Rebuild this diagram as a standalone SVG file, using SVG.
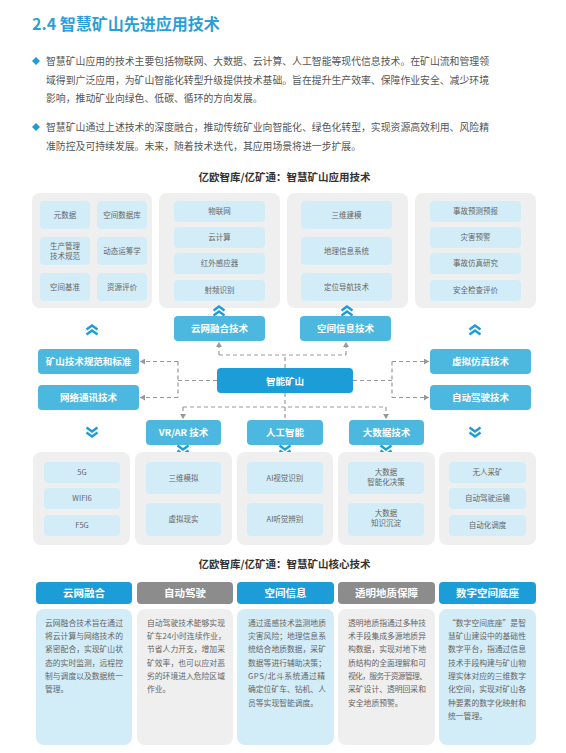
<svg xmlns="http://www.w3.org/2000/svg" xmlns:xlink="http://www.w3.org/1999/xlink" width="566" height="753" viewBox="0 0 566 753" font-family="'Noto Sans CJK SC','Noto Sans',sans-serif">
<style>
.panel{fill:#efefef}
.cell{fill:#d3edf8}
.btn{fill:#4db8df}
.core{fill:#1d9dd8}
.hdrB{fill:#1d9dd8}
.hdrG{fill:#8c8c8c}
.ct{font-size:7.5px;fill:#666;text-anchor:middle}
.bt{font-size:9.5px;fill:#fff;font-weight:bold;text-anchor:middle}
.ht{font-size:10.5px;fill:#fff;font-weight:bold;text-anchor:middle}
.body{font-size:7.8px;fill:#666}
.para{font-size:9.85px;fill:#555}
.ctitle{font-size:10.5px;fill:#333;font-weight:bold;text-anchor:middle}
.conn{stroke:#999;stroke-width:1.2;stroke-dasharray:4 3;fill:none}
.chev{stroke:#1d9dd8;stroke-width:2.4;fill:none;stroke-linejoin:miter}
</style>
<defs>
<marker id="arr" markerUnits="userSpaceOnUse" markerWidth="6" markerHeight="6" refX="5" refY="3" orient="auto">
<path d="M0,0 L5,3 L0,6 z" fill="#999"/>
</marker>
<g id="chevUp"><path class="chev" d="M-5.5,-0.5 L0,-4.5 L5.5,-0.5 M-5.5,4.5 L0,0.5 L5.5,4.5"/></g>
<g id="chevDown"><path class="chev" d="M-5.5,-4.5 L0,-0.5 L5.5,-4.5 M-5.5,0.5 L0,4.5 L5.5,0.5"/></g>
</defs>
<rect width="566" height="753" fill="#ffffff"/>

<g id="heading">
<text x="32" y="30" font-size="16" font-weight="bold" fill="#2a9fd8">2.4 智慧矿山先进应用技术</text>
</g>

<g id="paragraphs">
<path d="M36,57 L40,61 L36,65 L32,61 z" fill="#1d9dd8"/>
<text class="para" x="46" y="64.5" textLength="443">智慧矿山应用的技术主要包括物联网、大数据、云计算、人工智能等现代信息技术。在矿山流和管理领</text>
<text class="para" x="46" y="83.5" textLength="443">域得到广泛应用，为矿山智能化转型升级提供技术基础。旨在提升生产效率、保障作业安全、减少环境</text>
<text class="para" x="46" y="102">影响，推动矿业向绿色、低碳、循环的方向发展。</text>
<path d="M36,123 L40,127 L36,131 L32,127 z" fill="#1d9dd8"/>
<text class="para" x="46" y="130.5" textLength="443">智慧矿山通过上述技术的深度融合，推动传统矿业向智能化、绿色化转型，实现资源高效利用、风险精</text>
<text class="para" x="46" y="149.5">准防控及可持续发展。未来，随着技术迭代，其应用场景将进一步扩展。</text>
</g>

<text class="ctitle" x="284.5" y="181">亿欧智库/亿矿通：智慧矿山应用技术</text>

<g id="panel-top1">
<rect class="panel" x="32" y="193" width="120" height="115" rx="8"/>
<rect class="cell" x="40" y="201" width="50" height="28" rx="4"/>
<rect class="cell" x="97" y="201" width="50" height="28" rx="4"/>
<rect class="cell" x="40" y="237" width="50" height="28" rx="4"/>
<rect class="cell" x="97" y="237" width="50" height="28" rx="4"/>
<rect class="cell" x="40" y="273" width="50" height="28" rx="4"/>
<rect class="cell" x="97" y="273" width="50" height="28" rx="4"/>
<text class="ct" x="65" y="217.7">元数据</text>
<text class="ct" x="122" y="217.7">空间数据库</text>
<text class="ct" x="65" y="248.7">生产管理</text>
<text class="ct" x="65" y="258.7">技术规范</text>
<text class="ct" x="122" y="253.7">动态运筹学</text>
<text class="ct" x="65" y="289.7">空间基准</text>
<text class="ct" x="122" y="289.7">资源评价</text>
</g>

<g id="panel-top2">
<rect class="panel" x="159" y="193" width="121" height="115" rx="8"/>
<rect class="cell" x="174" y="201" width="91" height="21" rx="4"/>
<rect class="cell" x="174" y="227" width="91" height="21" rx="4"/>
<rect class="cell" x="174" y="253" width="91" height="21" rx="4"/>
<rect class="cell" x="174" y="280" width="91" height="21" rx="4"/>
<text class="ct" x="219.5" y="214.2">物联网</text>
<text class="ct" x="219.5" y="240.2">云计算</text>
<text class="ct" x="219.5" y="266.2">红外感应器</text>
<text class="ct" x="219.5" y="293.2">射频识别</text>
</g>

<g id="panel-top3">
<rect class="panel" x="287" y="193" width="121" height="115" rx="8"/>
<rect class="cell" x="301" y="201" width="91" height="28" rx="4"/>
<rect class="cell" x="301" y="237" width="91" height="28" rx="4"/>
<rect class="cell" x="301" y="273" width="91" height="28" rx="4"/>
<text class="ct" x="346.5" y="217.7">三维建模</text>
<text class="ct" x="346.5" y="253.7">地理信息系统</text>
<text class="ct" x="346.5" y="289.7">定位导航技术</text>
</g>

<g id="panel-top4">
<rect class="panel" x="415" y="193" width="121" height="115" rx="8"/>
<rect class="cell" x="430" y="201" width="91" height="21" rx="4"/>
<rect class="cell" x="430" y="227" width="91" height="21" rx="4"/>
<rect class="cell" x="430" y="253" width="91" height="21" rx="4"/>
<rect class="cell" x="430" y="280" width="91" height="21" rx="4"/>
<text class="ct" x="475.5" y="214.2">事故预测预报</text>
<text class="ct" x="475.5" y="240.2">灾害预警</text>
<text class="ct" x="475.5" y="266.2">事故仿真研究</text>
<text class="ct" x="475.5" y="293.2">安全检查评价</text>
</g>

<g id="connectors">
<path class="conn" d="M285,368 V355"/>
<path class="conn" d="M219,355 H346"/>
<path class="conn" d="M219,355 V342" marker-end="url(#arr)"/>
<path class="conn" d="M346,355 V342" marker-end="url(#arr)"/>
<path class="conn" d="M217,380.5 H178"/>
<path class="conn" d="M178,361.5 V397.5"/>
<path class="conn" d="M178,361.5 H140" marker-end="url(#arr)"/>
<path class="conn" d="M178,397.5 H140" marker-end="url(#arr)"/>
<path class="conn" d="M353,380.5 H392"/>
<path class="conn" d="M392,361.5 V397.5"/>
<path class="conn" d="M392,361.5 H429" marker-end="url(#arr)"/>
<path class="conn" d="M392,397.5 H429" marker-end="url(#arr)"/>
<path class="conn" d="M285,393 V420"/>
<path class="conn" d="M183,407 H386"/>
<path class="conn" d="M183,407 V419" marker-end="url(#arr)"/>
<path class="conn" d="M386,407 V419" marker-end="url(#arr)"/>
</g>

<g id="chevrons">
<use xlink:href="#chevUp" x="219" y="311"/>
<use xlink:href="#chevUp" x="347" y="311"/>
<use xlink:href="#chevUp" x="92" y="330"/>
<use xlink:href="#chevUp" x="475" y="330"/>
<use xlink:href="#chevDown" x="92" y="432"/>
<use xlink:href="#chevDown" x="475" y="432"/>
<use xlink:href="#chevDown" x="183" y="450"/>
<use xlink:href="#chevDown" x="285" y="450"/>
<use xlink:href="#chevDown" x="386" y="450"/>
</g>

<g id="node-cloud"><rect class="btn" x="174" y="316" width="91" height="25" rx="4"/><text class="bt" x="219.5" y="332">云网融合技术</text></g>
<g id="node-spatial"><rect class="btn" x="300" y="316" width="91" height="25" rx="4"/><text class="bt" x="345.5" y="332">空间信息技术</text></g>
<g id="node-standard"><rect class="btn" x="38" y="349" width="101" height="25" rx="4"/><text class="bt" x="88.5" y="365">矿山技术规范和标准</text></g>
<g id="node-network"><rect class="btn" x="38" y="385" width="101" height="25" rx="4"/><text class="bt" x="88.5" y="401">网络通讯技术</text></g>
<g id="node-core"><rect class="core" x="217" y="368" width="136" height="25" rx="4"/><text class="bt" x="285" y="384.5" font-size="11">智能矿山</text></g>
<g id="node-sim"><rect class="btn" x="430" y="349" width="101" height="25" rx="4"/><text class="bt" x="480.5" y="365">虚拟仿真技术</text></g>
<g id="node-auto"><rect class="btn" x="430" y="385" width="101" height="25" rx="4"/><text class="bt" x="480.5" y="401">自动驾驶技术</text></g>
<g id="node-vrar"><rect class="btn" x="146" y="420" width="75" height="25" rx="4"/><text class="bt" x="183.5" y="436">VR/AR 技术</text></g>
<g id="node-ai"><rect class="btn" x="247" y="420" width="76" height="25" rx="4"/><text class="bt" x="285" y="436">人工智能</text></g>
<g id="node-bigdata"><rect class="btn" x="349" y="420" width="75" height="25" rx="4"/><text class="bt" x="386.5" y="436">大数据技术</text></g>

<g id="panel-bot1">
<rect class="panel" x="33" y="452" width="97" height="93" rx="8"/>
<rect class="cell" x="44" y="462" width="76" height="21" rx="4"/>
<rect class="cell" x="44" y="488" width="76" height="21" rx="4"/>
<rect class="cell" x="44" y="515" width="76" height="21" rx="4"/>
<text class="ct" x="82" y="475.2">5G</text>
<text class="ct" x="82" y="501.2">WIFI6</text>
<text class="ct" x="82" y="528.2">F5G</text>
</g>
<g id="panel-bot2">
<rect class="panel" x="135" y="452" width="97" height="93" rx="8"/>
<rect class="cell" x="146" y="462" width="75" height="32" rx="4"/>
<rect class="cell" x="146" y="503" width="75" height="33" rx="4"/>
<text class="ct" x="183.5" y="480.7">三维模拟</text>
<text class="ct" x="183.5" y="522.2">虚拟现实</text>
</g>
<g id="panel-bot3">
<rect class="panel" x="237" y="452" width="96" height="93" rx="8"/>
<rect class="cell" x="247" y="462" width="76" height="32" rx="4"/>
<rect class="cell" x="247" y="503" width="76" height="33" rx="4"/>
<text class="ct" x="285" y="480.7">AI视觉识别</text>
<text class="ct" x="285" y="522.2">AI听觉辨别</text>
</g>
<g id="panel-bot4">
<rect class="panel" x="338" y="452" width="97" height="93" rx="8"/>
<rect class="cell" x="348" y="462" width="76" height="32" rx="4"/>
<rect class="cell" x="348" y="503" width="76" height="33" rx="4"/>
<text class="ct" x="386" y="475">大数据</text>
<text class="ct" x="386" y="485">智能化决策</text>
<text class="ct" x="386" y="516">大数据</text>
<text class="ct" x="386" y="526">知识沉淀</text>
</g>
<g id="panel-bot5">
<rect class="panel" x="439" y="452" width="97" height="93" rx="8"/>
<rect class="cell" x="449" y="462" width="77" height="21" rx="4"/>
<rect class="cell" x="449" y="488" width="77" height="21" rx="4"/>
<rect class="cell" x="449" y="515" width="77" height="21" rx="4"/>
<text class="ct" x="487.5" y="475.2">无人采矿</text>
<text class="ct" x="487.5" y="501.2">自动驾驶运输</text>
<text class="ct" x="487.5" y="528.2">自动化调度</text>
</g>

<text class="ctitle" x="284.5" y="568">亿欧智库/亿矿通：智慧矿山核心技术</text>

<g id="col-cloud">
<rect class="hdrB" x="36" y="582" width="96" height="22" rx="4"/>
<text class="ht" x="84" y="596.6">云网融合</text>
<rect class="cell" x="36" y="609" width="96" height="136" rx="8"/>
<text class="body" x="45" y="625.7">云网融合技术旨在通过</text>
<text class="body" x="45" y="639">将云计算与网络技术的</text>
<text class="body" x="45" y="652.4">紧密配合，实现矿山状</text>
<text class="body" x="45" y="665.7">态的实时监测，远程控</text>
<text class="body" x="45" y="679.1">制与调度以及数据统一</text>
<text class="body" x="45" y="692.4">管理。</text>
</g>
<g id="col-auto">
<rect class="hdrG" x="137" y="582" width="96" height="22" rx="4"/>
<text class="ht" x="185" y="596.6">自动驾驶</text>
<rect class="panel" x="137" y="609" width="96" height="136" rx="8"/>
<text class="body" x="147" y="625.7">自动驾驶技术能够实现</text>
<text class="body" x="147" y="639">矿车24小时连续作业，</text>
<text class="body" x="147" y="652.4">节省人力开支，增加采</text>
<text class="body" x="147" y="665.7">矿效率，也可以应对恶</text>
<text class="body" x="147" y="679.1">劣的环境进入危险区域</text>
<text class="body" x="147" y="692.4">作业。</text>
</g>
<g id="col-spatial">
<rect class="hdrB" x="237" y="582" width="97" height="22" rx="4"/>
<text class="ht" x="285.5" y="596.6">空间信息</text>
<rect class="cell" x="237" y="609" width="97" height="136" rx="8"/>
<text class="body" x="248" y="625.7">通过遥感技术监测地质</text>
<text class="body" x="248" y="639">灾害风险；地理信息系</text>
<text class="body" x="248" y="652.4">统结合地质数据，采矿</text>
<text class="body" x="248" y="665.7">数据等进行辅助决策；</text>
<text class="body" x="248" y="679.1" textLength="77">GPS/北斗系统通过精</text>
<text class="body" x="248" y="692.4">确定位矿车、钻机、人</text>
<text class="body" x="248" y="705.8">员等实现智能调度。</text>
</g>
<g id="col-geology">
<rect class="hdrG" x="338" y="582" width="97" height="22" rx="4"/>
<text class="ht" x="386.5" y="596.6">透明地质保障</text>
<rect class="panel" x="338" y="609" width="97" height="136" rx="8"/>
<text class="body" x="348" y="625.7">透明地质指通过多种技</text>
<text class="body" x="348" y="639">术手段集成多源地质异</text>
<text class="body" x="348" y="652.4">构数据，实现对地下地</text>
<text class="body" x="348" y="665.7">质结构的全面理解和可</text>
<text class="body" x="348" y="679.1" textLength="79">视化，服务于资源管理、</text>
<text class="body" x="348" y="692.4">采矿设计、透明回采和</text>
<text class="body" x="348" y="705.8">安全地质预警。</text>
</g>
<g id="col-digital">
<rect class="hdrB" x="439" y="582" width="97" height="22" rx="4"/>
<text class="ht" x="487.5" y="596.6">数字空间底座</text>
<rect class="cell" x="439" y="609" width="97" height="136" rx="8"/>
<text class="body" x="448" y="625.7">“数字空间底座”是智</text>
<text class="body" x="448" y="639">慧矿山建设中的基础性</text>
<text class="body" x="448" y="652.4">数字平台，指通过信息</text>
<text class="body" x="448" y="665.7">技术手段构建与矿山物</text>
<text class="body" x="448" y="679.1">理实体对应的三维数字</text>
<text class="body" x="448" y="692.4">化空间，实现对矿山各</text>
<text class="body" x="448" y="705.8">种要素的数字化映射和</text>
<text class="body" x="448" y="719.1">统一管理。</text>
</g>
</svg>
